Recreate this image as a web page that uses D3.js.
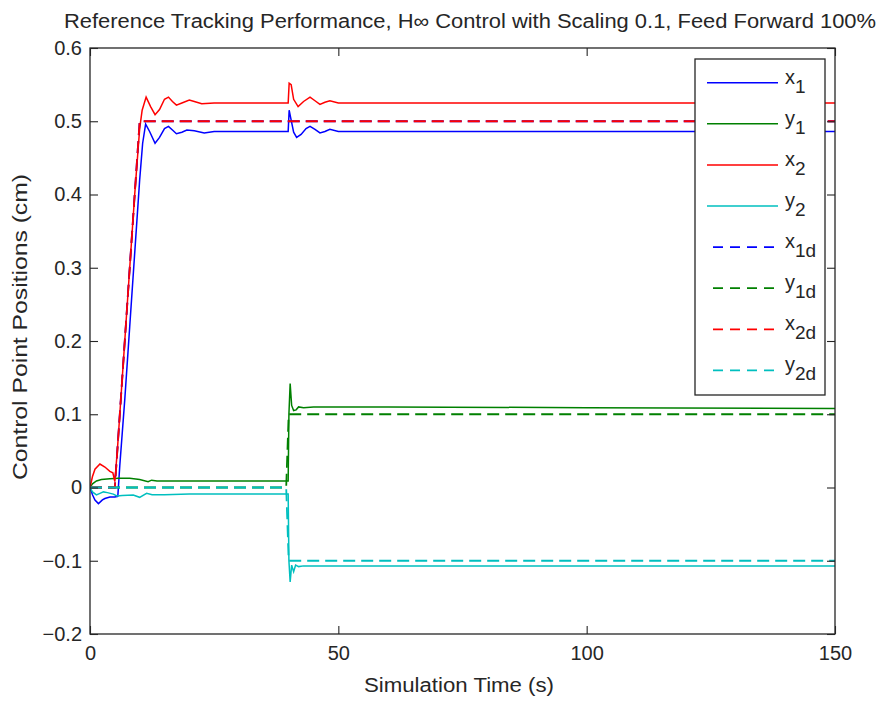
<!DOCTYPE html>
<html><head><meta charset="utf-8">
<script src="https://cdn.jsdelivr.net/npm/d3@7"></script>
<style>body{margin:0;background:#fff}svg{display:block}text{font-family:"Liberation Sans",Arial,sans-serif;fill:#262626}</style>
</head><body><svg id="c" width="879" height="701"></svg>
<script>
const titleText = "Reference Tracking Performance, H\u221E Control with Scaling 0.1, Feed Forward 100%";
const xLabelText = "Simulation Time (s)";
const yLabelText = "Control Point Positions (cm)";
const xTicks = [0, 50, 100, 150];
const yTicks = [-0.2, -0.1, 0, 0.1, 0.2, 0.3, 0.4, 0.5, 0.6];

// x1 (measured)
const x1T = [0,0.5,1,1.7,2.5,3,4,5,5.6,6,7,8,9,10,10.6,11.2,12,13.1,14,15,15.8,16.6,17.4,18.5,19.5,21,23,25,30,39.9,40.1,40.4,41,41.6,42.5,43.5,44.3,45.3,46.3,47.3,48.3,50,55,150];
const x1V = [0,-0.01,-0.017,-0.022,-0.017,-0.015,-0.013,-0.013,-0.012,0.03,0.12,0.22,0.32,0.42,0.47,0.496,0.486,0.470,0.478,0.490,0.493,0.488,0.483,0.485,0.488,0.487,0.484,0.486,0.486,0.486,0.515,0.505,0.485,0.478,0.482,0.49,0.493,0.489,0.484,0.486,0.489,0.486,0.486,0.486];
// y1
const y1T = [0,0.5,1.3,2.3,4,5.7,8,10,11.7,12.4,13.5,15,20,39.9,40.05,40.3,40.6,41,41.5,42,43,45,60,100,150];
const y1V = [0,0.005,0.009,0.011,0.012,0.0125,0.0125,0.011,0.008,0.01,0.009,0.009,0.009,0.009,0.1,0.142,0.112,0.105,0.106,0.11,0.109,0.11,0.11,0.109,0.108];
// x2
const x2T = [0,0.5,1,2,3,4,4.6,5,5.2,5.5,6,7,8,9,10,10.5,11.3,12.2,13.1,14,15,15.8,16.6,17.4,18.5,20,21,22.5,25,30,39.9,40.1,40.5,41,41.9,43,44.3,45.3,46.3,47.3,48.3,50,60,150];
const x2V = [0,0.015,0.025,0.032,0.028,0.022,0.02,0.008,0.025,0.05,0.1,0.2,0.3,0.4,0.49,0.515,0.533,0.52,0.509,0.516,0.53,0.533,0.527,0.522,0.525,0.529,0.527,0.524,0.525,0.525,0.525,0.552,0.55,0.53,0.52,0.527,0.533,0.528,0.523,0.526,0.528,0.525,0.525,0.525];
// y2
const y2T = [0,0.5,1.3,2,2.7,3.5,4.7,5.4,6.5,8.7,10,11.4,12.5,15,20,39.9,40.05,40.3,40.6,41,41.4,42,43,50,100,150];
const y2V = [0,-0.006,-0.01,-0.008,-0.006,-0.007,-0.009,-0.0116,-0.011,-0.0102,-0.0134,-0.008,-0.01,-0.01,-0.009,-0.009,-0.1,-0.129,-0.106,-0.115,-0.106,-0.108,-0.107,-0.107,-0.107,-0.107];
// references
const x1dT = [0,5,10,150];  const x1dV = [0,0,0.5,0.5];
const y1dT = [0,39.5,40,150]; const y1dV = [0,0,0.1,0.1];
const x2dT = [0,5,10,150];  const x2dV = [0,0,0.5,0.5];
const y2dT = [0,39.5,40,150]; const y2dV = [0,0,-0.1,-0.1];

const seriesNames = ["x","y","x","y","x","y","x","y"];
const seriesSubs = ["1","1","2","2","1d","1d","2d","2d"];
const seriesColors = ["#0000ff","#008000","#ff0000","#00bfbf","#0000ff","#008000","#ff0000","#00bfbf"];
const seriesDashed = [false,false,false,false,true,true,true,true];
const seriesT = [x1T,y1T,x2T,y2T,x1dT,y1dT,x2dT,y2dT];
const seriesV = [x1V,y1V,x2V,y2V,x1dV,y1dV,x2dV,y2dV];

(function(){
const svg = d3.select("#c");
const L=90,R=835,T=48,B=634;
const x = d3.scaleLinear().domain([0,150]).range([L,R]);
const y = d3.scaleLinear().domain([-0.2,0.6]).range([B,T]);
const axisCol="#262626";

svg.append("defs").append("clipPath").attr("id","clp").append("rect").attr("x",L).attr("y",T).attr("width",R-L).attr("height",B-T);

const line = d3.line().x(d=>x(d[0])).y(d=>y(d[1]));
const g = svg.append("g").attr("clip-path","url(#clp)");
seriesT.forEach((ts,i)=>{
  const pts = ts.map((t,j)=>[t,seriesV[i][j]]);
  g.append("path").attr("d",line(pts)).attr("fill","none")
   .attr("stroke",seriesColors[i]).attr("stroke-width",seriesDashed[i]?1.8:1.5)
   .attr("stroke-dasharray",seriesDashed[i]?"12,6":null);
});

const ax = svg.append("g");
const aBottom = d3.axisBottom(x).tickValues(xTicks).tickSize(-8).tickPadding(12).tickFormat(d3.format("d"));
const aTop = d3.axisTop(x).tickValues(xTicks).tickSize(-8).tickFormat("");
const aLeft = d3.axisLeft(y).tickValues(yTicks).tickSize(-8).tickPadding(8).tickFormat(d=>Math.abs(d)<1e-9?"0":d3.format(".1f")(d));
const aRight = d3.axisRight(y).tickValues(yTicks).tickSize(-8).tickFormat("");
[[aBottom,`translate(0,${B})`],[aTop,`translate(0,${T})`],[aLeft,`translate(${L},0)`],[aRight,`translate(${R},0)`]].forEach(([a,tr])=>{
  const gg = ax.append("g").attr("transform",tr).call(a);
  gg.select(".domain").remove();
  gg.selectAll(".tick line").attr("stroke",axisCol).attr("stroke-width",1.1);
  gg.selectAll(".tick text").attr("font-size",20).attr("fill",axisCol).style("font-family",'"Liberation Sans",Arial,sans-serif');
});
ax.append("rect").attr("x",L).attr("y",T).attr("width",R-L).attr("height",B-T).attr("fill","none").attr("stroke",axisCol).attr("stroke-width",1.3);

function fit(sel,w){ sel.attr("textLength",w).attr("lengthAdjust","spacingAndGlyphs"); }
const tt = svg.append("text").attr("x",470).attr("y",28).attr("text-anchor","middle").attr("font-size",20).text(titleText);
fit(tt,812);
const xl = svg.append("text").attr("x",459).attr("y",692).attr("text-anchor","middle").attr("font-size",20).text(xLabelText);
fit(xl,190);
const yl = svg.append("text").attr("transform",`translate(27,327) rotate(-90)`).attr("text-anchor","middle").attr("font-size",20).text(yLabelText);
fit(yl,306);

const lg = svg.append("g");
lg.append("rect").attr("x",695).attr("y",59).attr("width",130).attr("height",336).attr("fill","#fff").attr("stroke",axisCol).attr("stroke-width",1.3);
seriesNames.forEach((n,i)=>{
  const yy = 82.7 + i*41.1;
  lg.append("line").attr("x1",seriesDashed[i]?713:707).attr("x2",778).attr("y1",yy).attr("y2",yy)
    .attr("stroke",seriesColors[i]).attr("stroke-width",seriesDashed[i]?1.8:1.5).attr("stroke-dasharray",seriesDashed[i]?"10,7":null);
  const t = lg.append("text").attr("x",785).attr("y",yy+1).attr("font-size",20);
  t.append("tspan").text(n);
  t.append("tspan").attr("dy",9).attr("font-size",19).text(seriesSubs[i]);
});
})();
</script></body></html>
